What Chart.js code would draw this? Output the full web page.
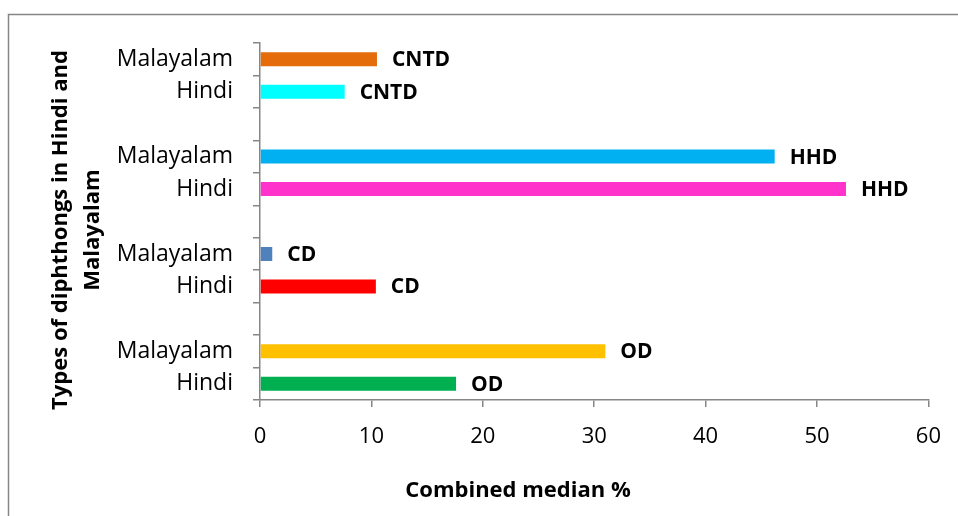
<!DOCTYPE html>
<html>
<head>
<meta charset="utf-8">
<title>Diphthongs in Hindi and Malayalam</title>
<script src="https://cdn.jsdelivr.net/npm/chart.js@4/dist/chart.umd.min.js"></script>
<style>
  html, body { margin: 0; padding: 0; background: #ffffff; }
  canvas { display: block; }
</style>
</head>
<body>
<canvas id="chart" width="958" height="516"></canvas>
<script>
// Rows listed top to bottom; blank rows separate the diphthong groups.
const categories = ['Malayalam', 'Hindi', '', 'Malayalam', 'Hindi', '', 'Malayalam', 'Hindi', '', 'Malayalam', 'Hindi'];
const diphthongTypes = ['CNTD', 'CNTD', '', 'HHD', 'HHD', '', 'CD', 'CD', '', 'OD', 'OD'];
const medianPercent = [10.5, 7.6, null, 46.2, 52.6, null, 1.1, 10.4, null, 31.0, 17.6];
const barColors = ['#E46C0A', '#00FFFF', null, '#00B0F0', '#FF33CC', null, '#4F81BD', '#FF0000', null, '#FFC000', '#00B050'];
const xTicks = [0, 10, 20, 30, 40, 50, 60];

const FONT = '"Open Sans", Lato, sans-serif';
const AXIS_GREY = '#868686';

// Frame, axis titles and the type label printed after each bar.
const decorations = {
  id: 'decorations',
  beforeDraw(chart) {
    const ctx = chart.ctx;
    ctx.save();
    ctx.strokeStyle = AXIS_GREY;
    ctx.lineWidth = 1.5;
    ctx.strokeRect(8.5, 14.5, chart.width + 20, chart.height + 20);
    ctx.restore();
  },
  afterDraw(chart) {
    const ctx = chart.ctx;
    ctx.save();
    ctx.fillStyle = '#000000';

    // Labels at the end of each bar
    ctx.font = 'bold 21px ' + FONT;
    ctx.textAlign = 'left';
    ctx.textBaseline = 'middle';
    const meta = chart.getDatasetMeta(0);
    meta.data.forEach((bar, i) => {
      if (medianPercent[i] == null || !diphthongTypes[i]) return;
      ctx.fillText(diphthongTypes[i], bar.x + 15, bar.y + 1);
    });

    // X axis title
    ctx.font = 'bold 22px ' + FONT;
    ctx.textAlign = 'center';
    ctx.fillText('Combined median %', 518, 491);

    // Y axis title, rotated, two lines
    ctx.save();
    ctx.translate(77, 230);
    ctx.rotate(-Math.PI / 2);
    ctx.font = 'bold 22px ' + FONT;
    ctx.textAlign = 'center';
    ctx.fillText('Types of diphthongs in Hindi and', 0, -16);
    ctx.fillText('Malayalam', 0, 16);
    ctx.restore();

    ctx.restore();
  }
};

new Chart(document.getElementById('chart'), {
  type: 'bar',
  data: {
    labels: categories,
    datasets: [{
      data: medianPercent,
      backgroundColor: barColors,
      borderWidth: 0,
      categoryPercentage: 1.0,
      barPercentage: 0.43
    }]
  },
  options: {
    indexAxis: 'y',
    responsive: false,
    animation: false,
    devicePixelRatio: 1,
    layout: { padding: { top: 43, right: 29, left: 0, bottom: 0 } },
    plugins: {
      legend: { display: false },
      tooltip: { enabled: false }
    },
    scales: {
      x: {
        type: 'linear',
        min: xTicks[0],
        max: xTicks[xTicks.length - 1],
        afterBuildTicks(scale) {
          scale.ticks = xTicks.map(v => ({ value: v }));
        },
        afterFit(scale) { scale.height = 116; },
        grid: {
          drawOnChartArea: false,
          drawTicks: true,
          tickLength: 7,
          color: AXIS_GREY,
          lineWidth: 1.5
        },
        border: { color: AXIS_GREY, width: 1.5 },
        ticks: {
          color: '#000000',
          font: { family: FONT, size: 22 },
          padding: 17
        }
      },
      y: {
        type: 'category',
        offset: true,
        afterFit(scale) { scale.width = 260; },
        grid: {
          offset: true,
          drawOnChartArea: false,
          drawTicks: true,
          tickLength: 7,
          color: AXIS_GREY,
          lineWidth: 1.5
        },
        border: { color: AXIS_GREY, width: 1.5 },
        ticks: {
          color: '#000000',
          font: { family: FONT, size: 23 },
          padding: 20,
          autoSkip: false
        }
      }
    }
  },
  plugins: [decorations]
});
</script>
</body>
</html>
